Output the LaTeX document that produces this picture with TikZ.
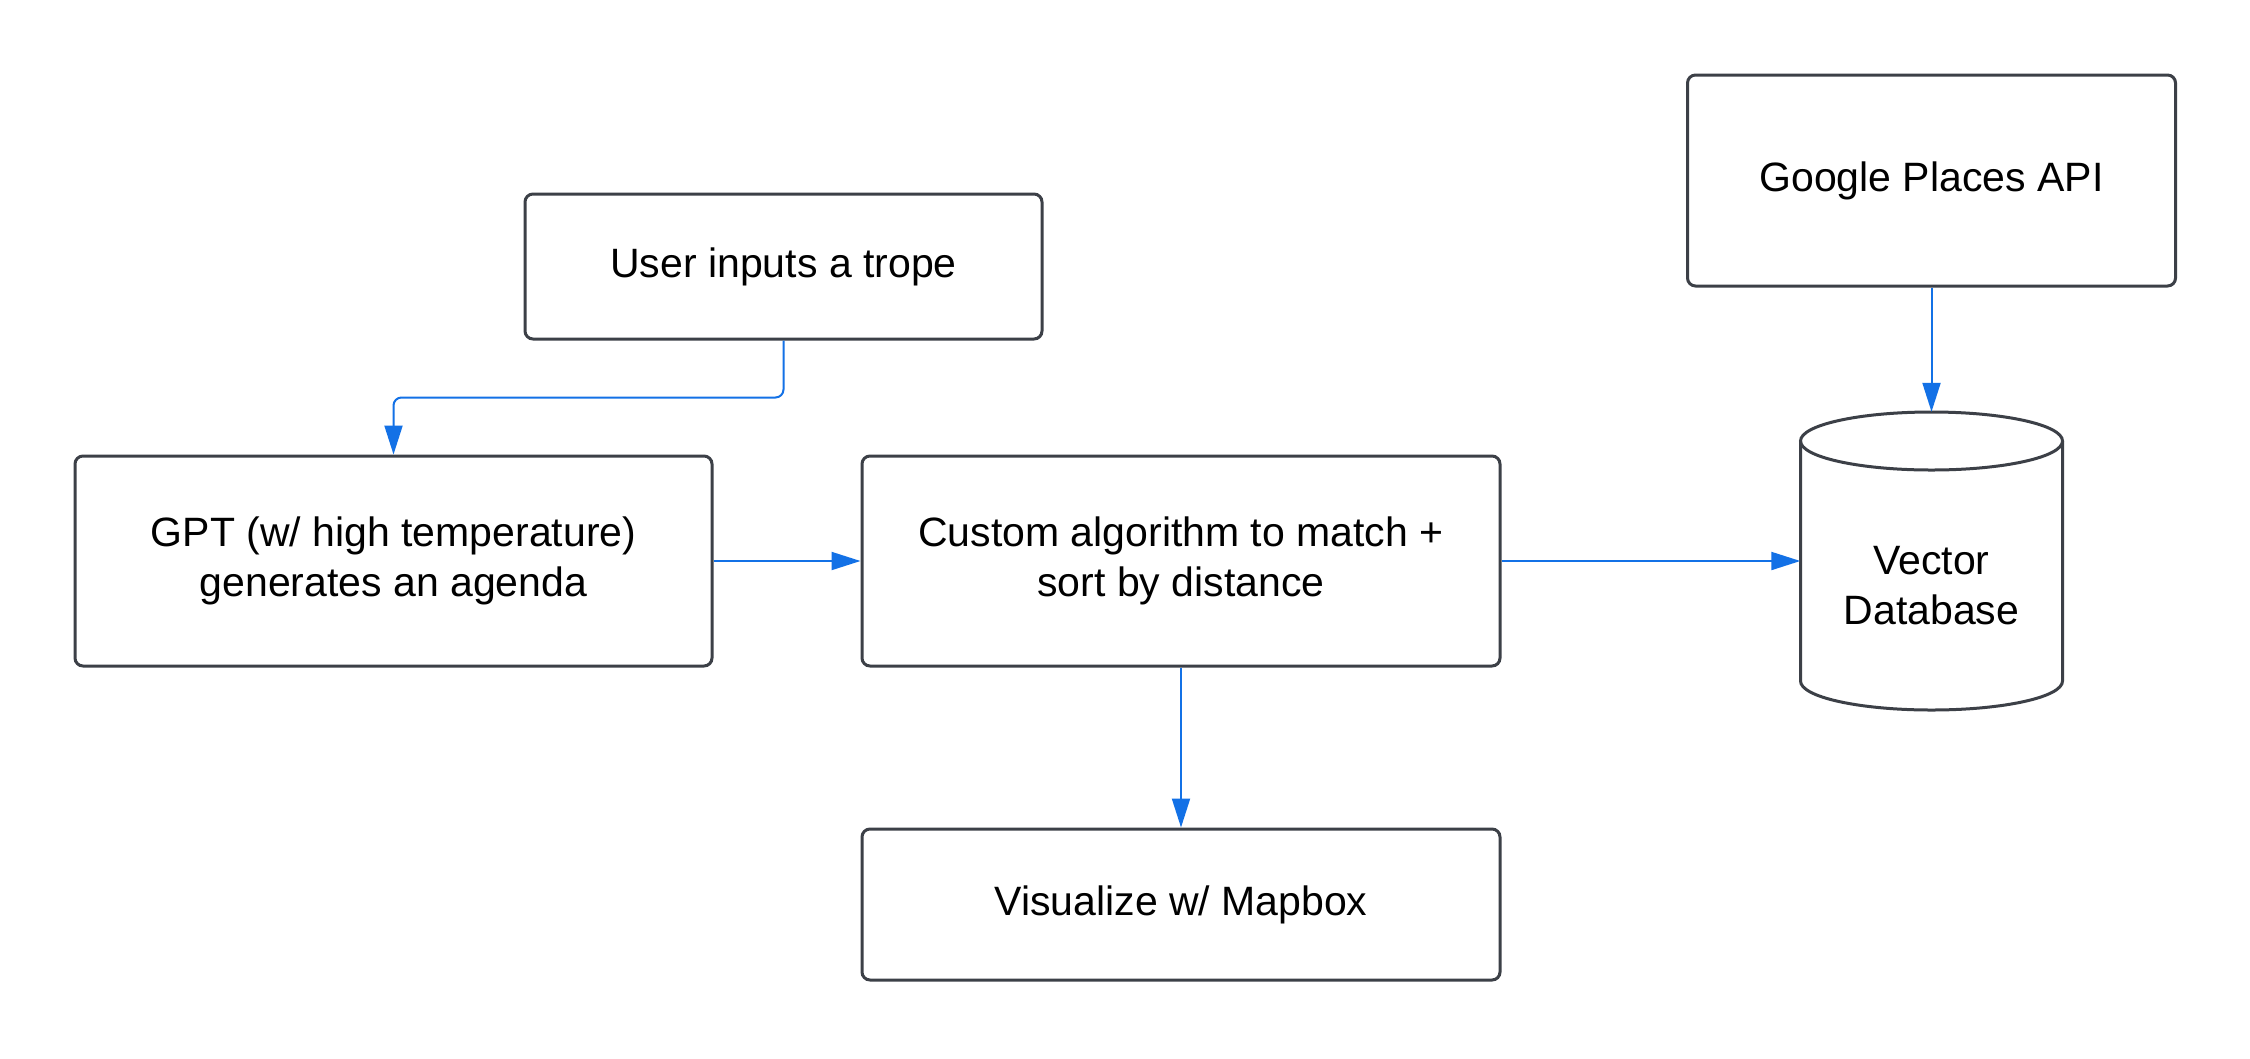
\documentclass[tikz,border=0pt]{standalone}
\usepackage{fontspec}
\setmainfont{Liberation Sans}
\usetikzlibrary{arrows.meta}
\definecolor{boxc}{HTML}{3C4047}
\definecolor{arr}{HTML}{1371E6}
\begin{document}
\begin{tikzpicture}[x=1pt,y=-1pt,
  box/.style={draw=boxc, line width=3pt, rounded corners=8pt, align=center,
    font=\fontsize{41}{50}\selectfont, inner sep=0pt, rectangle},
  conn/.style={draw=arr, line width=2pt, -{Triangle[length=29pt,width=18pt]}},
  txt/.style={align=center, font=\fontsize{41}{50}\selectfont, inner sep=0pt}]
\useasboundingbox[fill=white] (0,0) rectangle (2250,1058);
\node[box, minimum width=517pt, minimum height=145pt] (user) at (783.5,266.5) {User inputs a trope};
\node[box, minimum width=637pt, minimum height=210pt] (gpt) at (393.5,561) {GPT (w/ high temperature)\\generates an agenda};
\node[box, minimum width=638pt, minimum height=210pt] (custom) at (1181,561) {Custom algorithm to match +\\sort by distance};
\node[box, minimum width=638pt, minimum height=151pt] (vis) at (1181,904.5) {Visualize w/ Mapbox};
\node[box, minimum width=488pt, minimum height=211pt] (google) at (1931.5,180.5) {Google Places API};
% cylinder
\node[minimum width=262pt, minimum height=298pt, inner sep=0pt] (vec) at (1931.5,561) {};
\draw[boxc, line width=3pt] (1800.5,441) -- (1800.5,681) arc (180:0:131 and 29) -- (2062.5,441);
\draw[boxc, line width=3pt] (1931.5,441) ellipse (131 and 29);
\node[txt] (vectxt) at (1931.5,586) {Vector\\Database};
% connectors
\draw[conn, rounded corners=8pt] (user.south) -- ++(0,57) -| (gpt.north);
\draw[conn] (gpt.east) -- (custom.west);
\draw[conn] (custom.east) -- (vec.west);
\draw[conn] (custom.south) -- (vis.north);
\draw[conn] (google.south) -- (vec.north);
\end{tikzpicture}
\end{document}
